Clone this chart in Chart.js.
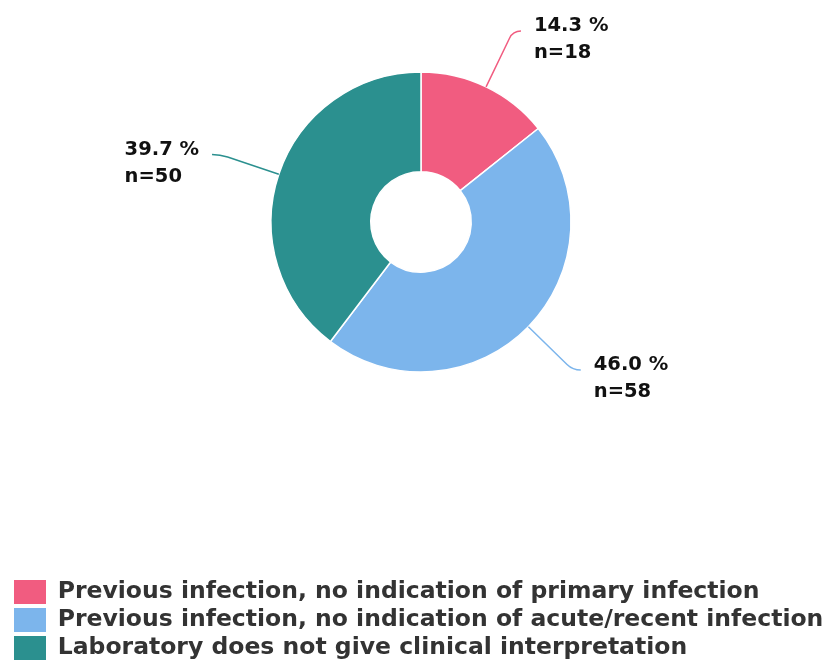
<!DOCTYPE html>
<html><head><meta charset="utf-8">
<script src="https://cdn.jsdelivr.net/npm/chart.js@4/dist/chart.umd.min.js"></script>
<style>html,body{margin:0;padding:0;background:#fff}#wrap{width:833px;height:668px;position:relative}</style>
</head><body><div id="wrap"><canvas id="c"></canvas></div>
<script>
const categories = [
  'Previous infection, no indication of primary infection',
  'Previous infection, no indication of acute/recent infection',
  'Laboratory does not give clinical interpretation'
];
const counts = [18, 58, 50];
const percents = [14.3, 46.0, 39.7];
const colors = ['#f15c80', '#7cb5ec', '#2b908f'];

const leaderLabels = {
  id: 'leaderLabels',
  afterDatasetsDraw(chart) {
    const ctx = chart.ctx;
    const meta = chart.getDatasetMeta(0);
    meta.data.forEach((arc, i) => {
      const p = arc.getProps(['x', 'y', 'startAngle', 'endAngle', 'outerRadius'], true);
      const mid = (p.startAngle + p.endAngle) / 2;
      const dx = Math.cos(mid), dy = Math.sin(mid);
      const sign = dx >= 0 ? 1 : -1;
      const R = p.outerRadius;
      const ex = p.x + R * dx, ey = p.y + R * dy;
      const qx = p.x + (R + 62) * dx, qy = p.y + (R + 62) * dy;
      const bx = p.x + (R + 54) * dx, by = p.y + (R + 54) * dy;
      const tx = qx + sign * 8, ty = qy;
      ctx.save();
      ctx.strokeStyle = colors[i];
      ctx.lineWidth = 1.5;
      ctx.beginPath();
      ctx.moveTo(ex, ey);
      ctx.lineTo(bx, by);
      ctx.quadraticCurveTo(qx, qy, tx, ty);
      ctx.stroke();
      ctx.fillStyle = '#111111';
      ctx.font = 'bold 19.5px "DejaVu Sans"';
      ctx.textAlign = 'left';
      ctx.textBaseline = 'middle';
      const line1 = percents[i].toFixed(1) + ' %';
      const line2 = 'n=' + counts[i];
      const w = Math.max(ctx.measureText(line1).width, ctx.measureText(line2).width);
      const lx = sign > 0 ? tx + 13 : tx - 13 - w;
      ctx.fillText(line1, lx, ty - 5);
      ctx.fillText(line2, lx, ty + 22);
      ctx.restore();
    });
  }
};

const baseGen = Chart.overrides.doughnut.plugins.legend.labels.generateLabels;

new Chart(document.getElementById('c'), {
  type: 'doughnut',
  data: {
    labels: categories,
    datasets: [{
      data: counts,
      backgroundColor: colors,
      borderColor: '#ffffff',
      borderWidth: 1.5,
      hoverOffset: 0
    }]
  },
  options: {
    responsive: true,
    maintainAspectRatio: false,
    animation: false,
    radius: 150,
    cutout: '33.5%',
    layout: { padding: { left: 10, right: 1, top: 0, bottom: -2 } },
    plugins: {
      tooltip: { enabled: false },
      title: {
        display: true,
        position: 'bottom',
        weight: 500,
        text: '',
        padding: { top: 122, bottom: 0 },
        font: { size: 10, lineHeight: 1 }
      },
      legend: {
        position: 'bottom',
        align: 'start',
        labels: {
          boxWidth: 32,
          boxHeight: 24,
          padding: 4,
          color: '#333333',
          font: { family: '"DejaVu Sans"', size: 23.5, weight: 'bold' },
          generateLabels(chart) {
            return baseGen(chart).map(l => Object.assign(l, { lineWidth: 0 }));
          }
        }
      }
    }
  },
  plugins: [leaderLabels]
});
</script>
</body></html>
